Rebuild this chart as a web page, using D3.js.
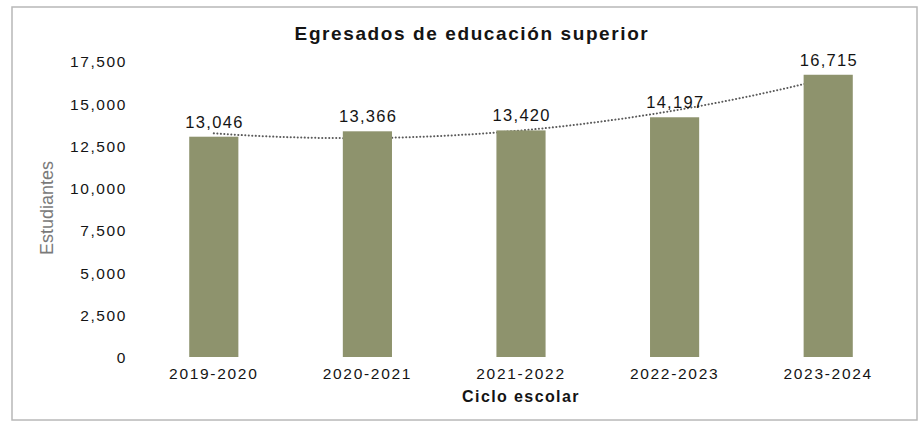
<!DOCTYPE html>
<html><head><meta charset="utf-8">
<script src="https://cdn.jsdelivr.net/npm/d3@7"></script>
<style>
body{margin:0;background:#fff;}
svg text{font-family:"Liberation Sans",Arial,sans-serif;fill:#141414;}
</style></head>
<body><svg id="c" width="919" height="423"></svg>
<script>
const categories = ["2019-2020","2020-2021","2021-2022","2022-2023","2023-2024"];
const values = [13046,13366,13420,14197,16715];
const yTicks = [0,2500,5000,7500,10000,12500,15000,17500];
const title = "Egresados de educación superior";
const xTitle = "Ciclo escolar";
const yTitle = "Estudiantes";

const svg = d3.select("#c");
svg.append("rect").attr("x",12).attr("y",7).attr("width",905).attr("height",413)
  .attr("fill","#fff").attr("stroke","#b8b8b8").attr("stroke-width",1.5);

const x = d3.scaleBand().domain(categories).range([137,905]).paddingInner(0.68).paddingOuter(0.34);
const y = d3.scaleLinear().domain([0,17500]).range([357,61.5]);

// title
svg.append("text").attr("x",472).attr("y",39.5).attr("text-anchor","middle")
  .style("font-weight","bold").style("font-size","19px").style("letter-spacing","1.6px").text(title);

// y axis (labels only)
const yAxis = d3.axisLeft(y).tickValues(yTicks).tickSize(0).tickPadding(0).tickFormat(d3.format(","));
const gy = svg.append("g").attr("transform","translate(127,0)").call(yAxis);
gy.select(".domain").remove();
gy.selectAll("text").style("font-size","15.5px").style("letter-spacing","1.6px").attr("dy","0.35em").style("font-family",null);

// x axis
const xAxis = d3.axisBottom(x).tickSize(0).tickPadding(0);
const gx = svg.append("g").attr("transform","translate(0,357)").call(xAxis);
gx.select(".domain").remove();
gx.selectAll("text").style("font-size","15.5px").style("letter-spacing","1.7px").attr("dy","1.45em").style("font-family",null);

// axis titles
svg.append("text").attr("x",521).attr("y",402).attr("text-anchor","middle")
  .style("font-weight","bold").style("font-size","16px").style("letter-spacing","1.4px").text(xTitle);
svg.append("text").attr("transform","translate(53,208) rotate(-90)").attr("text-anchor","middle")
  .style("font-family","'Liberation Sans Narrow','Arial Narrow',sans-serif").style("font-size","18px").style("fill","#7a7a7a").text(yTitle);

// quadratic trendline (least squares fit of the data)
const n = values.length;
const idx = d3.range(n);
function fitQuad(xs, ys){
  let S=[0,0,0,0,0], T=[0,0,0];
  xs.forEach((xv,i)=>{ for(let k=0;k<5;k++) S[k]+=Math.pow(xv,k); for(let k=0;k<3;k++) T[k]+=ys[i]*Math.pow(xv,k);});
  const M=[[S[0],S[1],S[2],T[0]],[S[1],S[2],S[3],T[1]],[S[2],S[3],S[4],T[2]]];
  for(let i=0;i<3;i++){ for(let j=i+1;j<3;j++){ const f=M[j][i]/M[i][i]; for(let k=i;k<4;k++) M[j][k]-=f*M[i][k]; } }
  const c=[0,0,0];
  for(let i=2;i>=0;i--){ let s=M[i][3]; for(let k=i+1;k<3;k++) s-=M[i][k]*c[k]; c[i]=s/M[i][i]; }
  return t=>c[0]+c[1]*t+c[2]*t*t;
}
const f = fitQuad(idx, values);
const xi = d3.scaleLinear().domain([0,n-1]).range([x(categories[0])+x.bandwidth()/2, x(categories[n-1])+x.bandwidth()/2]);
const pts = d3.range(0, n-1+1e-9, 0.05).map(t=>[xi(t), y(f(t))]);
svg.append("path").attr("d", d3.line()(pts)).attr("fill","none")
  .attr("stroke","#5a5a5a").attr("stroke-width",2).attr("stroke-linecap","round").attr("stroke-dasharray","0.1,3.4");

// bars
svg.selectAll("rect.bar").data(values).enter().append("rect").attr("class","bar")
  .attr("x",(d,i)=>x(categories[i])).attr("width",x.bandwidth())
  .attr("y",d=>y(d)).attr("height",d=>y(0)-y(d)).attr("fill","#8e936d");

// data labels
svg.selectAll("text.lbl").data(values).enter().append("text").attr("class","lbl")
  .attr("x",(d,i)=>x(categories[i])+x.bandwidth()/2+0.7).attr("y",d=>y(d)-9)
  .attr("text-anchor","middle").style("font-size","16.5px").style("letter-spacing","1.3px")
  .text(d=>d3.format(",")(d));
</script></body></html>
